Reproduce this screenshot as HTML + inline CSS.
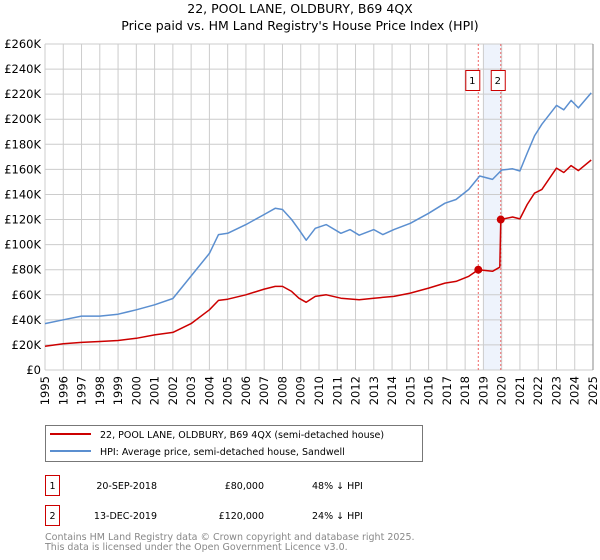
<!DOCTYPE html>
<html><head><meta charset="utf-8"><style>
body{margin:0;background:#fff;}
svg{display:block;font-family:"DejaVu Sans","Liberation Sans",sans-serif;}
</style></head><body>
<svg id="chart" width="600" height="560" viewBox="0 0 600 560">
<text x="300" y="13" text-anchor="middle" font-size="12.5" fill="#000">22, POOL LANE, OLDBURY, B69 4QX</text>
<text x="300" y="30" text-anchor="middle" font-size="12.5" fill="#000">Price paid vs. HM Land Registry's House Price Index (HPI)</text>
<g id="grid"></g>
<g id="marks"></g>
<g id="axes"></g>
<g>
<rect x="45.5" y="425.5" width="377" height="36" fill="#fff" stroke="#777"/>
<line x1="50" y1="434" x2="91" y2="434" stroke="#cc0000" stroke-width="2"/>
<text x="100" y="438" font-size="9.5">22, POOL LANE, OLDBURY, B69 4QX (semi-detached house)</text>
<line x1="50" y1="451" x2="91" y2="451" stroke="#5b8fd0" stroke-width="2"/>
<text x="100" y="455" font-size="9.5">HPI: Average price, semi-detached house, Sandwell</text>
</g>
<g>
<rect x="45.5" y="475.5" width="14" height="20" fill="#fff" stroke="#cc0000"/>
<text x="52.5" y="489" text-anchor="middle" font-size="9.5">1</text>
<text x="157" y="489" text-anchor="end" font-size="9.5">20-SEP-2018</text>
<text x="264" y="489" text-anchor="end" font-size="9.5">£80,000</text>
<text x="312" y="489" font-size="9.5">48% ↓ HPI</text>
<rect x="45.5" y="505.5" width="14" height="20" fill="#fff" stroke="#cc0000"/>
<text x="52.5" y="519" text-anchor="middle" font-size="9.5">2</text>
<text x="157" y="519" text-anchor="end" font-size="9.5">13-DEC-2019</text>
<text x="264" y="519" text-anchor="end" font-size="9.5">£120,000</text>
<text x="312" y="519" font-size="9.5">24% ↓ HPI</text>
</g>
<text x="45" y="540" font-size="9.5" fill="#888">Contains HM Land Registry data © Crown copyright and database right 2025.</text>
<text x="45" y="550" font-size="9.5" fill="#888">This data is licensed under the Open Government Licence v3.0.</text>
</svg>
<script>
const hpiYears=[1995,1996,1997,1998,1999,2000,2001,2002,2003,2004,2004.5,2005,2006,2007,2007.6,2008,2008.5,2008.9,2009.3,2009.8,2010.4,2011.2,2011.7,2012.2,2013,2013.5,2014.1,2015,2016,2016.9,2017.5,2018.2,2018.8,2019.5,2020,2020.6,2021,2021.4,2021.8,2022.2,2023,2023.4,2023.8,2024.2,2024.9];
const hpiValues=[37,40,43,43,44.5,48,52,57,75,93,108,109,116,124,129,128,120,112,103.5,113,116,109,112,107.5,112,108,112,117,125,133,136,144,154.7,152,159.5,160.5,158.7,173,186.7,196,211,207.5,215,209,221];
const priceYears=[1995,1996,1997,1998,1999,2000,2001,2002,2003,2004,2004.5,2005,2006,2007,2007.6,2008,2008.5,2008.9,2009.3,2009.8,2010.4,2011.2,2012.2,2013,2014.1,2015,2016,2016.9,2017.5,2018.2,2018.72,2019.5,2019.9,2019.95,2020.6,2021,2021.4,2021.8,2022.2,2023,2023.4,2023.8,2024.2,2024.9];
const priceValues=[19,21,22,22.7,23.5,25.3,28,30,37,48,55.5,56.5,60,64.5,66.7,66.7,62.7,57.3,54,58.7,60,57.3,56,57.3,58.7,61.3,65.3,69.3,70.7,74.7,80,78.7,82,120,122,120.5,132,141,144,161,157.5,163,159,167.5];
const saleYears=[2018.72,2019.95];
const saleValues=[80,120];
const saleLabels=["1","2"];
const yTicks=[0,20,40,60,80,100,120,140,160,180,200,220,240,260];
const xTicks=[1995,1996,1997,1998,1999,2000,2001,2002,2003,2004,2005,2006,2007,2008,2009,2010,2011,2012,2013,2014,2015,2016,2017,2018,2019,2020,2021,2022,2023,2024,2025];
const NS="http://www.w3.org/2000/svg";
const X0=45,X1=593,Y0=370,Y1=44;
const xs=y=>X0+(y-1995)/30*(X1-X0);
const ys=v=>Y0-v/260*(Y0-Y1);
function mk(tag,attrs,parent){const e=document.createElementNS(NS,tag);for(const k in attrs)e.setAttribute(k,attrs[k]);parent.appendChild(e);return e;}
const grid=document.getElementById('grid'),marks=document.getElementById('marks'),axes=document.getElementById('axes');
// shaded region between sales
const band=mk('rect',{x:xs(saleYears[0])+5,y:Y1,width:xs(saleYears[1])-xs(saleYears[0])-5,height:Y0-Y1,fill:'#eef3fc'},grid);


yTicks.forEach(t=>{
  const l=mk('line',{x1:X0,x2:X1,y1:ys(t),y2:ys(t),stroke:'#ccc','stroke-width':1},grid);
  
  
  const tx=mk('text',{x:X0-4,y:ys(t)+4,'text-anchor':'end','font-size':'11.5'},axes);
  tx.textContent=t===0?'£0':'£'+t+'K';
  
  
});
xTicks.forEach(t=>{
  const l=mk('line',{x1:xs(t),x2:xs(t),y1:Y1,y2:Y0,stroke:'#ccc','stroke-width':1},grid);
  
  
  const tx=mk('text',{x:0,y:0,'text-anchor':'end','font-size':'11.5',transform:`translate(${xs(t)+4},${Y0+6}) rotate(-90)`},axes);
  tx.textContent=t;
  
  
});
saleYears.forEach((y,i)=>{
  const l=mk('line',{x1:xs(y),x2:xs(y),y1:Y1,y2:Y0,stroke:'#e66','stroke-width':1,'stroke-dasharray':'2,2'},marks);
  
  
});
function path(xa,va,color,name){
  const d=xa.map((x,i)=>(i?'L':'M')+xs(x).toFixed(1)+','+ys(va[i]).toFixed(1)).join('');
  const p=mk('path',{d:d,fill:'none',stroke:color,'stroke-width':1.5,'stroke-linejoin':'round'},marks);
  
  
}
path(hpiYears,hpiValues,'#5b8fd0','hpi-line');
path(priceYears,priceValues,'#cc0000','price-paid-line');
saleYears.forEach((y,i)=>{
  const c=mk('circle',{cx:xs(y),cy:ys(saleValues[i]),r:4,fill:'#cc0000'},marks);
  
  
  const bx=xs(y)-(i===0?14:0)-1+(i===0?0:-1);
  const r=mk('rect',{x:xs(y)+(i===0?-13:-10)+0.5,y:70.5,width:14,height:20,fill:'#fff',stroke:'#cc0000'},marks);
  
  
  const t=mk('text',{x:xs(y)+(i===0?-6:-3),y:84,'text-anchor':'middle','font-size':'10'},marks);
  t.textContent=saleLabels[i];
  
  
});
const ax=mk('line',{x1:X1,x2:X1,y1:Y1,y2:Y0,stroke:'#888'},axes);


</script>
</body></html>
